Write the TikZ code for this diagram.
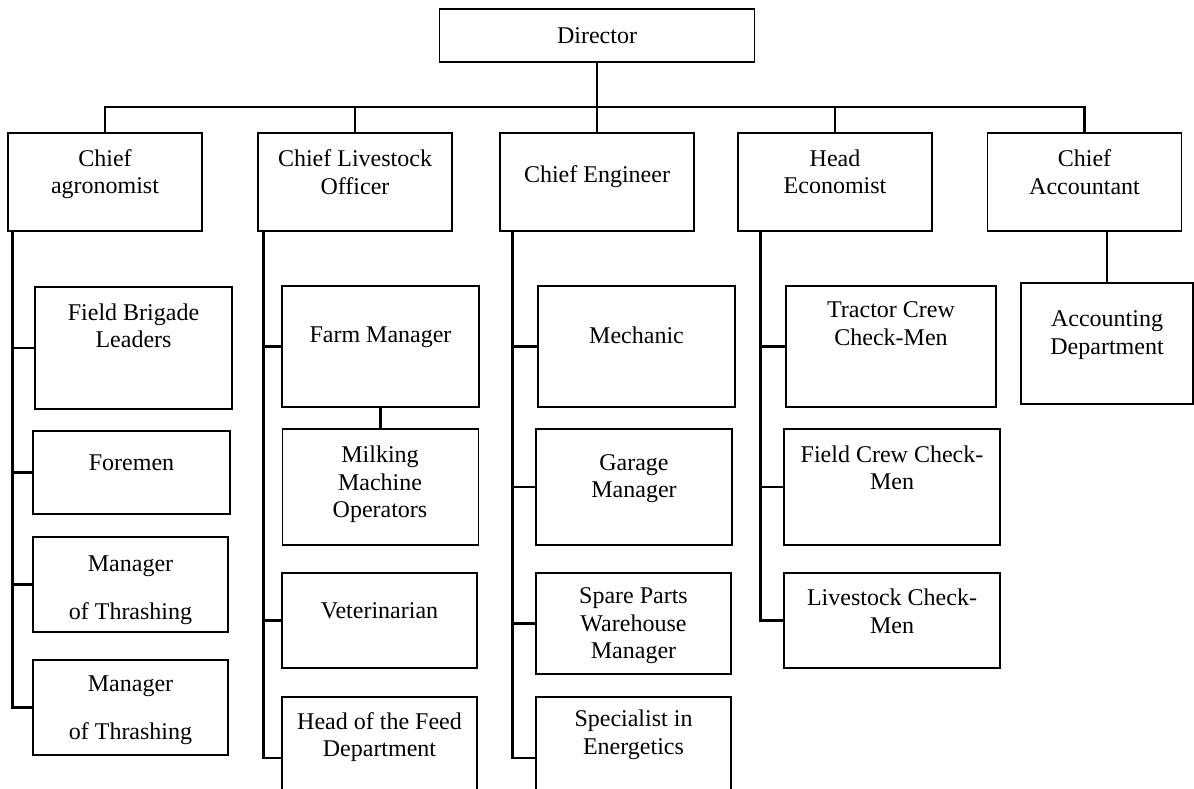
\documentclass[tikz,border=0pt]{standalone}
\usepackage{fontspec}
\setmainfont{Liberation Serif}
\begin{document}
\begin{tikzpicture}[x=1pt, y=-1pt,
        box/.style={draw, line width=1.3pt, inner sep=0pt},
        txt/.style={align=center, inner sep=0pt, font=\fontsize{24}{27.5}\selectfont},
        link/.style={line width=2.3pt}]
        \clip (0,0) rectangle (1194,789);

        % director
        \node[box, txt, minimum width=315, minimum height=53] (dir) at (597,35.5) {Director};

        % chiefs
        \node[box, minimum width=194, minimum height=98] (agr) at (105,182) {};
        \node[box, minimum width=194, minimum height=98] (live) at (355,182) {};
        \node[box, minimum width=194, minimum height=98] (eng) at (597,182) {};
        \node[box, minimum width=194, minimum height=98] (econ) at (835,182) {};
        \node[box, minimum width=194, minimum height=98] (acct) at (1084.5,182) {};
        \node[txt] (agr-t) at (105,174) {Chief\\agronomist};
        \node[txt] (live-t) at (355,172) {Chief Livestock\\Officer};
        \node[txt] (eng-t) at (597,177) {Chief Engineer};
        \node[txt] (econ-t) at (835,172) {Head\\Economist};
        \node[txt] (acct-t) at (1084.5,172) {Chief\\Accountant};

        % agronomist column
        \node[box, minimum width=197, minimum height=122] (fbl) at (133.5,348) {};
        \node[box, minimum width=197, minimum height=83] (frm) at (131.5,472.5) {};
        \node[box, minimum width=195, minimum height=95] (mt1) at (130.5,584.5) {};
        \node[box, minimum width=195, minimum height=95] (mt2) at (130.5,707.5) {};
        \node[txt] (fbl-t) at (133.5,326) {Field Brigade\\Leaders};
        \node[txt] (frm-t) at (131.5,463) {Foremen};
        \node[txt] (mt1-t) at (130.5,590) {Manager\\[21pt]of Thrashing};
        \node[txt] (mt2-t) at (130.5,710) {Manager\\[21pt]of Thrashing};

        % livestock column
        \node[box, minimum width=197, minimum height=121] (fm) at (380.5,346.5) {};
        \node[box, minimum width=196, minimum height=116] (mmo) at (380.5,487) {};
        \node[box, minimum width=195, minimum height=95] (vet) at (379.5,620.5) {};
        \node[box, minimum width=195, minimum height=122] (hfd) at (379.5,758) {};
        \node[txt] (fm-t) at (380.5,337.5) {Farm Manager};
        \node[txt] (mmo-t) at (380,484.5) {Milking\\Machine\\Operators};
        \node[txt] (vet-t) at (379.5,610.5) {Veterinarian};
        \node[txt] (hfd-t) at (379.5,737) {Head of the Feed\\Department};

        % engineer column
        \node[box, minimum width=197, minimum height=121] (mech) at (636.5,346.5) {};
        \node[box, minimum width=196, minimum height=116] (gar) at (634,487) {};
        \node[box, minimum width=195, minimum height=101] (spw) at (633.5,623.5) {};
        \node[box, minimum width=195, minimum height=122] (spe) at (633.5,758) {};
        \node[txt] (mech-t) at (636.5,335.5) {Mechanic};
        \node[txt] (gar-t) at (634,478.5) {Garage\\Manager};
        \node[txt] (spw-t) at (633.5,626) {Spare Parts\\Warehouse\\Manager};
        \node[txt] (spe-t) at (633.5,735) {Specialist in\\Energetics};

        % economist column
        \node[box, minimum width=210, minimum height=121] (tcc) at (891,346.5) {};
        \node[box, minimum width=216, minimum height=116] (fcc) at (892,487) {};
        \node[box, minimum width=216, minimum height=95] (lcc) at (892,620.5) {};
        \node[txt] (tcc-t) at (891,323.5) {Tractor Crew\\Check-Men};
        \node[txt] (fcc-t) at (892,468) {Field Crew Check-\\Men};
        \node[txt] (lcc-t) at (892,611.5) {Livestock Check-\\Men};

        % accountant column
        \node[box, minimum width=172, minimum height=121] (acd) at (1107,343.5) {};
        \node[txt] (acd-t) at (1107,335) {Accounting\\Department};

        % top links
        \coordinate (bus) at (597,107);
        \draw[link] (dir.south) -- (eng.north);
        \draw[link] (agr.north) |- (bus) -| (acct.north);
        \draw[link] (live.north) -- (live.north |- bus);
        \draw[link] (econ.north) -- (econ.north |- bus);

        % column links
        \coordinate (c1) at ([xshift=5pt]agr.south west);
        \coordinate (c2) at ([xshift=6pt]live.south west);
        \coordinate (c3) at ([xshift=13pt]eng.south west);
        \coordinate (c4) at ([xshift=23pt]econ.south west);
        \foreach \n in {fbl,frm,mt1,mt2} \draw[link] (c1) |- (\n.west);
        \foreach \n in {fm,vet,hfd} \draw[link] (c2) |- (\n.west);
        \foreach \n in {mech,gar,spw,spe} \draw[link] (c3) |- (\n.west);
        \foreach \n in {tcc,fcc,lcc} \draw[link] (c4) |- (\n.west);
        \draw[link] (fm.south) -- (mmo.north);
        \draw[link] (acct.south -| acd.north) -- (acd.north);
\end{tikzpicture}
\end{document}
